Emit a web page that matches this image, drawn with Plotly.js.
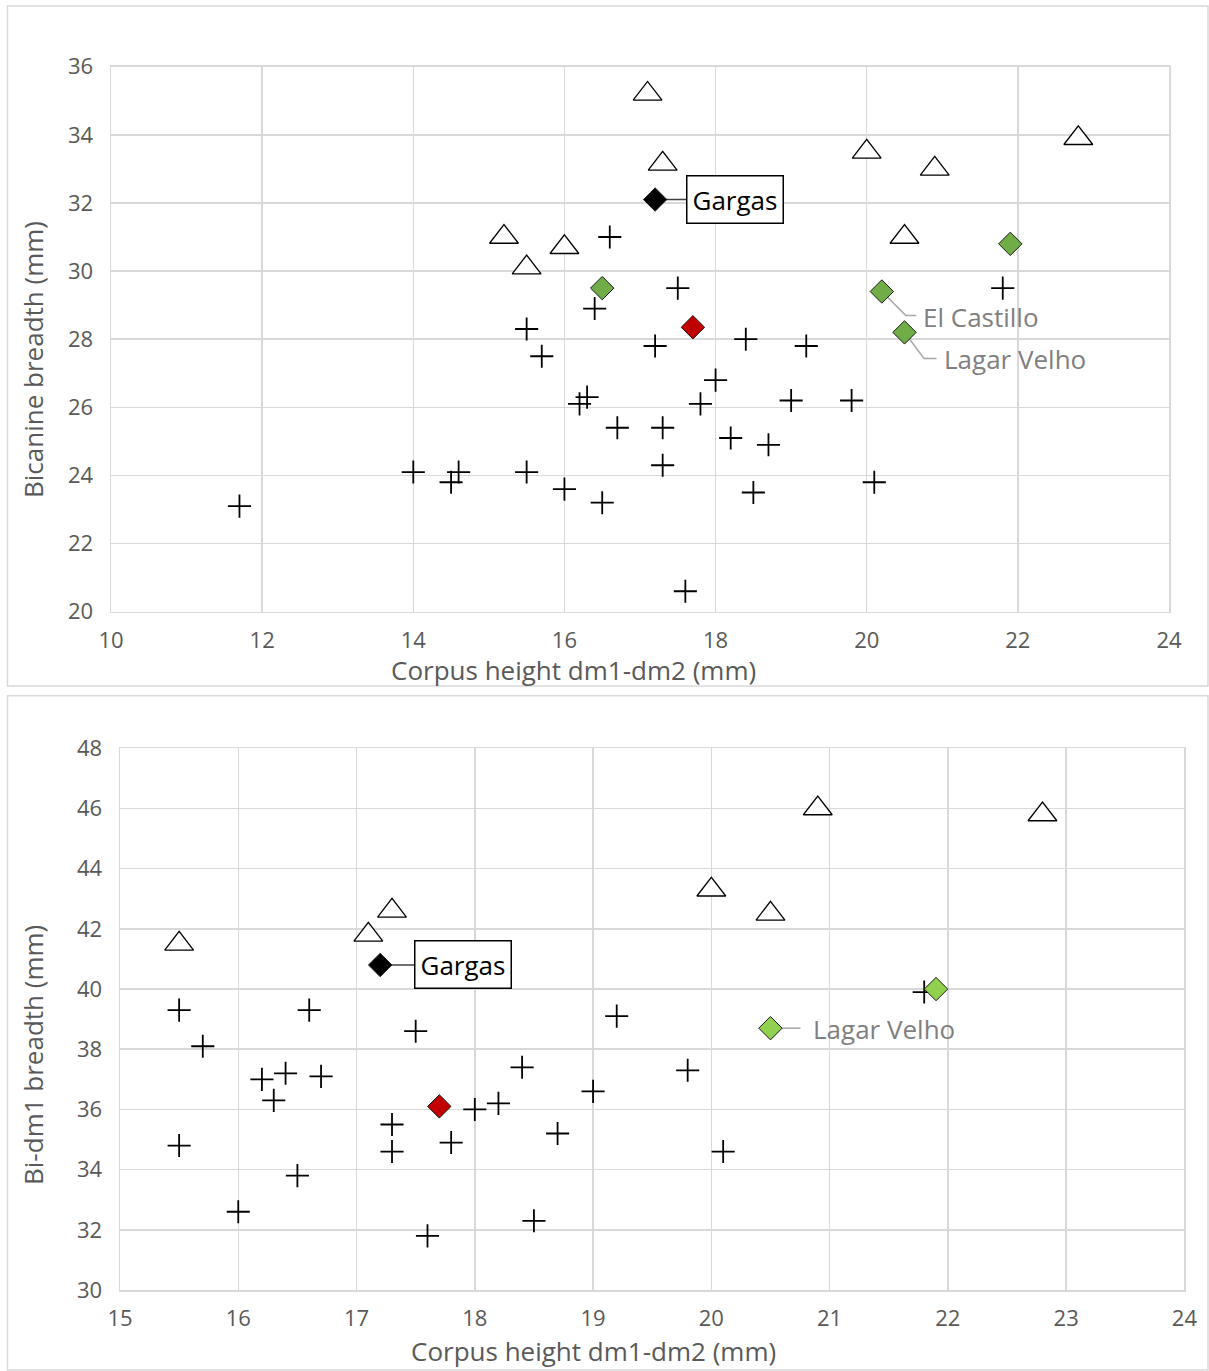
<!DOCTYPE html>
<html>
<head>
<meta charset="utf-8">
<script src="https://cdn.plot.ly/plotly-3.0.1.min.js"></script>
<style>
  html, body { margin: 0; padding: 0; background: #ffffff; }
  #chart { width: 1209px; height: 1371px; }
</style>
</head>
<body>
<div id="chart"></div>
<script>
// ---------------- DATA ----------------
// Panel A: Bicanine breadth vs Corpus height dm1-dm2
const crossA_x = [16.6, 17.5, 21.8, 16.4, 15.5, 17.2, 18.4, 19.2, 15.7, 18.0, 16.3, 16.2, 17.8, 19.0, 19.8, 16.7, 17.3, 18.2, 18.7, 17.3, 14.0, 14.6, 14.5, 15.5, 16.0, 16.5, 18.5, 20.1, 11.7, 17.6];
const crossA_y = [31.0, 29.5, 29.5, 28.9, 28.3, 27.8, 28.0, 27.8, 27.5, 26.8, 26.3, 26.1, 26.1, 26.2, 26.2, 25.4, 25.4, 25.1, 24.9, 24.3, 24.1, 24.1, 23.8, 24.1, 23.6, 23.2, 23.5, 23.8, 23.1, 20.6];
const triA_x = [17.1, 17.3, 20.0, 20.9, 22.8, 15.2, 16.0, 15.5, 20.5];
const triA_y = [35.2, 33.15, 33.5, 33.0, 33.9, 31.0, 30.7, 30.1, 31.0];
const greenA_x = [16.5, 21.9, 20.2, 20.5];
const greenA_y = [29.5, 30.8, 29.4, 28.2];
const greenA_labels = ["", "", "El Castillo", "Lagar Velho"];
const redA_x = [17.7];
const redA_y = [28.35];
const gargasA_x = [17.2];
const gargasA_y = [32.1];

// Panel B: Bi-dm1 breadth vs Corpus height dm1-dm2
const crossB_x = [15.5, 16.6, 17.5, 19.2, 15.7, 16.2, 16.4, 16.7, 16.3, 18.4, 19.0, 18.0, 18.2, 17.3, 17.3, 17.8, 18.7, 15.5, 16.5, 16.0, 17.6, 18.5, 19.8, 20.1, 21.8];
const crossB_y = [39.3, 39.3, 38.6, 39.1, 38.1, 37.0, 37.2, 37.1, 36.3, 37.4, 36.6, 36.0, 36.2, 35.5, 34.6, 34.9, 35.2, 34.8, 33.8, 32.6, 31.8, 32.3, 37.3, 34.6, 39.9];
const triB_x = [15.5, 17.3, 17.1, 20.9, 22.8, 20.0, 20.5];
const triB_y = [41.5, 42.6, 41.8, 46.0, 45.8, 43.3, 42.5];
const greenB_x = [21.9, 20.5];
const greenB_y = [40.0, 38.7];
const greenB_labels = ["", "Lagar Velho"];
const redB_x = [17.7];
const redB_y = [36.1];
const gargasB_x = [17.2];
const gargasB_y = [40.8];

const gargasLabel = "Gargas";
const xTitle = "Corpus height dm1-dm2 (mm)";
const yTitleA = "Bicanine breadth (mm)";
const yTitleB = "Bi-dm1 breadth (mm)";
const xRangeA = [10, 24], yRangeA = [20, 36];
const xRangeB = [15, 24], yRangeB = [30, 48];

// ---------------- LAYOUT HELPERS ----------------
const W = 1209, H = 1371;
const px = v => v / W;            // pixel x -> paper
const py = v => 1 - v / H;        // pixel y -> paper

const FONT = '"Open Sans", "Noto Sans", sans-serif';
const GRID = '#d9d9d9';
const TXT = '#595959';

function crossTrace(x, y, xa, ya) {
  return { type: 'scatter', mode: 'markers', x, y, xaxis: xa, yaxis: ya, hoverinfo: 'skip',
    marker: { symbol: 'cross-thin-open', size: 16.5, color: '#000', line: { color: '#000', width: 1.8 } } };
}
function triTrace(x, y, xa, ya) {
  return { type: 'scatter', mode: 'markers', x, y, xaxis: xa, yaxis: ya, hoverinfo: 'skip',
    marker: { symbol: 'triangle-up', size: 25, color: '#ffffff', line: { color: '#000', width: 1.3 } } };
}
function diamondTrace(x, y, xa, ya, color) {
  return { type: 'scatter', mode: 'markers', x, y, xaxis: xa, yaxis: ya, hoverinfo: 'skip',
    marker: { symbol: 'diamond', size: 18, color: color, line: { color: '#1a1a1a', width: 1 } } };
}

const traces = [
  crossTrace(crossA_x, crossA_y, 'x', 'y'),
  triTrace(triA_x, triA_y, 'x', 'y'),
  diamondTrace(greenA_x, greenA_y, 'x', 'y', '#70ad47'),
  diamondTrace(redA_x, redA_y, 'x', 'y', '#c00000'),
  diamondTrace(gargasA_x, gargasA_y, 'x', 'y', '#000000'),
  crossTrace(crossB_x, crossB_y, 'x2', 'y2'),
  triTrace(triB_x, triB_y, 'x2', 'y2'),
  diamondTrace(greenB_x, greenB_y, 'x2', 'y2', '#92d050'),
  diamondTrace(redB_x, redB_y, 'x2', 'y2', '#c00000'),
  diamondTrace(gargasB_x, gargasB_y, 'x2', 'y2', '#000000')
];

function axisCommon(extra) {
  return Object.assign({
    showgrid: true, gridcolor: GRID, gridwidth: 1.5,
    showline: true, mirror: true, linecolor: GRID, linewidth: 1.5,
    zeroline: false, ticks: '',
    tickfont: { family: FONT, size: 22, color: TXT },
    fixedrange: true
  }, extra);
}

const layout = {
  width: W, height: H,
  margin: { l: 0, r: 0, t: 0, b: 0, pad: 0 },
  paper_bgcolor: '#ffffff', plot_bgcolor: '#ffffff',
  showlegend: false,
  font: { family: FONT, color: TXT },
  xaxis: axisCommon({ domain: [px(111), px(1169)], range: xRangeA, tick0: 10, dtick: 2, anchor: 'y',
    ticklabelstandoff: 8 }),
  yaxis: axisCommon({ domain: [py(611.7), py(66.7)], range: yRangeA, tick0: 20, dtick: 2, anchor: 'x',
    ticklabelstandoff: 12 }),
  xaxis2: axisCommon({ domain: [px(120), px(1184.4)], range: xRangeB, tick0: 15, dtick: 1, anchor: 'y2',
    ticklabelstandoff: 8 }),
  yaxis2: axisCommon({ domain: [py(1290), py(748.3)], range: yRangeB, tick0: 30, dtick: 2, anchor: 'x2',
    ticklabelstandoff: 12 }),
  shapes: [
    // chart-area borders
    { type: 'rect', xref: 'paper', yref: 'paper', x0: px(7.5), x1: px(1208), y0: py(686), y1: py(6),
      line: { color: GRID, width: 1.5 }, fillcolor: 'rgba(0,0,0,0)', layer: 'below' },
    { type: 'rect', xref: 'paper', yref: 'paper', x0: px(7.5), x1: px(1208), y0: py(1370), y1: py(695.7),
      line: { color: GRID, width: 1.5 }, fillcolor: 'rgba(0,0,0,0)', layer: 'below' }
  ],
  annotations: []
};

// axis titles (positioned as in the original figure, off-centre)
const titleFont = { family: FONT, size: 26, color: TXT };
layout.annotations.push(
  { xref: 'paper', yref: 'paper', x: px(573), y: py(670), xanchor: 'center', yanchor: 'middle',
    text: xTitle, showarrow: false, font: titleFont },
  { xref: 'paper', yref: 'paper', x: px(33), y: py(360), xanchor: 'center', yanchor: 'middle', textangle: -90,
    text: yTitleA, showarrow: false, font: titleFont },
  { xref: 'paper', yref: 'paper', x: px(593), y: py(1351), xanchor: 'center', yanchor: 'middle',
    text: xTitle, showarrow: false, font: titleFont },
  { xref: 'paper', yref: 'paper', x: px(33), y: py(1055), xanchor: 'center', yanchor: 'middle', textangle: -90,
    text: yTitleB, showarrow: false, font: titleFont }
);

// leader line anchored at a data point, path given in pixel offsets (y up)
function leader(xa, ya, x, y, path, color) {
  return { type: 'path', xref: xa, yref: ya, xsizemode: 'pixel', ysizemode: 'pixel',
    xanchor: x, yanchor: y, path: path, line: { color: color, width: 1.5 }, layer: 'between' };
}

// Gargas callouts
layout.shapes.push(leader('x', 'y', gargasA_x[0], gargasA_y[0], 'M0,0 L31,0', '#404040'));
layout.annotations.push({ xref: 'x', yref: 'y', x: gargasA_x[0], y: gargasA_y[0], xanchor: 'left', yanchor: 'middle',
  xshift: 31, text: gargasLabel, showarrow: false, bgcolor: '#ffffff', bordercolor: '#000', borderwidth: 1.5, borderpad: 5,
  font: { family: FONT, size: 26, color: '#000' } });
layout.shapes.push(leader('x2', 'y2', gargasB_x[0], gargasB_y[0], 'M0,0 L34,0', '#404040'));
layout.annotations.push({ xref: 'x2', yref: 'y2', x: gargasB_x[0], y: gargasB_y[0], xanchor: 'left', yanchor: 'middle',
  xshift: 34, text: gargasLabel, showarrow: false, bgcolor: '#ffffff', bordercolor: '#000', borderwidth: 1.5, borderpad: 5,
  font: { family: FONT, size: 26, color: '#000' } });

// grey labels
const LBL = '#7f7f7f', LINE = '#a6a6a6';
layout.shapes.push(leader('x', 'y', greenA_x[2], greenA_y[2], 'M0,0 L24,-24 L34.5,-24', LINE));
layout.annotations.push({ xref: 'x', yref: 'y', x: greenA_x[2], y: greenA_y[2], xanchor: 'left', yanchor: 'middle',
  xshift: 39, yshift: -25, text: greenA_labels[2], showarrow: false, font: { family: FONT, size: 26, color: LBL } });
layout.shapes.push(leader('x', 'y', greenA_x[3], greenA_y[3], 'M0,0 L19.5,-26 L32,-26', LINE));
layout.annotations.push({ xref: 'x', yref: 'y', x: greenA_x[3], y: greenA_y[3], xanchor: 'left', yanchor: 'middle',
  xshift: 37, yshift: -27, text: greenA_labels[3], showarrow: false, font: { family: FONT, size: 26, color: LBL } });
layout.shapes.push(leader('x2', 'y2', greenB_x[1], greenB_y[1], 'M0,0 L30,0', LINE));
layout.annotations.push({ xref: 'x2', yref: 'y2', x: greenB_x[1], y: greenB_y[1], xanchor: 'left', yanchor: 'middle',
  xshift: 41, yshift: -1, text: greenB_labels[1], showarrow: false, font: { family: FONT, size: 26, color: LBL } });

Plotly.newPlot('chart', traces, layout, { staticPlot: true, displayModeBar: false });
</script>
</body>
</html>
